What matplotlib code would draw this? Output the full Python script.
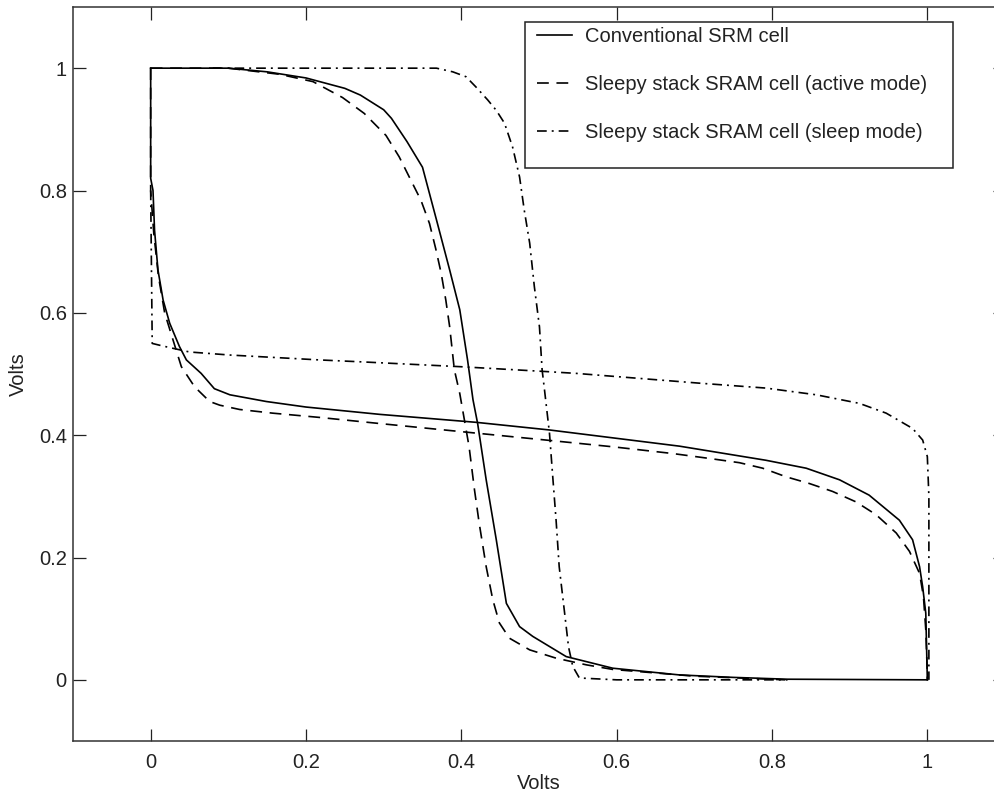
import matplotlib
matplotlib.use("Agg")
import matplotlib.pyplot as plt
from matplotlib.lines import Line2D
from matplotlib.patches import Rectangle

plt.rcParams['font.family'] = ['Liberation Sans', 'DejaVu Sans']
plt.rcParams['lines.scale_dashes'] = False

# ---- data ----
labels = ["Conventional SRM cell",
          "Sleepy stack SRAM cell (active mode)",
          "Sleepy stack SRAM cell (sleep mode)"]

conv_a_x = [0.0, 0.10, 0.15, 0.20, 0.25, 0.27, 0.30, 0.31, 0.33, 0.35, 0.368, 0.385, 0.398,
            0.408, 0.415, 0.421, 0.432, 0.445, 0.458, 0.475, 0.492, 0.535, 0.595, 0.681,
            0.75, 0.82, 1.0]
conv_a_y = [1.0, 1.0, 0.994, 0.984, 0.967, 0.956, 0.932, 0.918, 0.88, 0.838, 0.752, 0.670,
            0.605, 0.523, 0.458, 0.419, 0.327, 0.229, 0.125, 0.087, 0.071, 0.038, 0.019,
            0.008, 0.004, 0.001, 0.0]

conv_b_x = [0.0, 0.0, 0.003, 0.005, 0.0094, 0.016, 0.0245, 0.037, 0.046, 0.065, 0.082, 0.102,
            0.149, 0.200, 0.295, 0.419, 0.5135, 0.681, 0.792, 0.844, 0.887, 0.925, 0.964,
            0.981, 0.990, 0.994, 0.998, 1.0]
conv_b_y = [1.0, 0.82, 0.80, 0.735, 0.670, 0.621, 0.583, 0.545, 0.523, 0.501, 0.476, 0.466,
            0.455, 0.446, 0.434, 0.421, 0.4085, 0.382, 0.359, 0.346, 0.327, 0.302, 0.261,
            0.229, 0.185, 0.152, 0.109, 0.0]

act_a_x = [0.0, 0.10, 0.166, 0.209, 0.247, 0.275, 0.303, 0.320, 0.333, 0.348, 0.359, 0.367,
           0.374, 0.380, 0.385, 0.391, 0.398, 0.410, 0.417, 0.423, 0.432, 0.4405, 0.449,
           0.462, 0.488, 0.522, 0.561, 0.595, 0.70, 0.817]
act_a_y = [1.0, 1.0, 0.990, 0.978, 0.952, 0.926, 0.890, 0.855, 0.822, 0.784, 0.746, 0.705,
           0.665, 0.621, 0.577, 0.507, 0.468, 0.381, 0.310, 0.256, 0.185, 0.131, 0.093,
           0.068, 0.049, 0.0354, 0.0245, 0.017, 0.006, 0.0]

act_b_x = [0.0, 0.0, 0.004, 0.010, 0.018, 0.0287, 0.0395, 0.0566, 0.076, 0.089, 0.1145, 0.157,
           0.2175, 0.295, 0.398, 0.509, 0.595, 0.672, 0.719, 0.758, 0.788, 0.818, 0.848,
           0.878, 0.908, 0.934, 0.960, 0.977, 0.990, 0.995, 0.998, 1.0, 1.0]
act_b_y = [1.0, 0.80, 0.73, 0.66, 0.60, 0.556, 0.512, 0.479, 0.455, 0.449, 0.442, 0.436,
           0.429, 0.419, 0.406, 0.392, 0.381, 0.370, 0.362, 0.355, 0.346, 0.332, 0.321,
           0.308, 0.291, 0.270, 0.240, 0.210, 0.174, 0.136, 0.082, 0.01, 0.0]

slp_a_x = [0.08, 0.368, 0.389, 0.406, 0.419, 0.434, 0.445, 0.4556, 0.466, 0.475, 0.481, 0.488,
           0.494, 0.5006, 0.504, 0.507, 0.5135, 0.518, 0.522, 0.526, 0.533, 0.538, 0.5435,
           0.552, 0.60, 0.82]
slp_a_y = [1.0, 1.0, 0.994, 0.986, 0.969, 0.948, 0.931, 0.910, 0.871, 0.822, 0.768, 0.714,
           0.643, 0.577, 0.507, 0.475, 0.403, 0.327, 0.261, 0.185, 0.109, 0.054, 0.0218,
           0.003, 0.0, 0.0]

slp_b_x = [0.0, 0.002, 0.0116, 0.0287, 0.050, 0.102, 0.2175, 0.269, 0.398, 0.509, 0.548,
           0.7066, 0.792, 0.857, 0.9125, 0.947, 0.981, 0.994, 1.0, 1.002, 1.002]
slp_b_y = [0.80, 0.55, 0.547, 0.542, 0.536, 0.531, 0.523, 0.520, 0.512, 0.504, 0.501,
           0.485, 0.477, 0.466, 0.452, 0.436, 0.411, 0.392, 0.365, 0.30, 0.0]

x_ticks = [0, 0.2, 0.4, 0.6, 0.8, 1.0]
y_ticks = [0, 0.2, 0.4, 0.6, 0.8, 1.0]
x_tick_labels = ["0", "0.2", "0.4", "0.6", "0.8", "1"]
y_tick_labels = ["0", "0.2", "0.4", "0.6", "0.8", "1"]
x_label = "Volts"
y_label = "Volts"

# ---- styles ----
FS = 14.5
dark = '#222222'
lw = 1.2
solid_style = dict(color='black', lw=lw, linestyle='-')
dash_style = dict(color='black', lw=lw, linestyle=(0, (8.5, 5.5)))
dashdot_style = dict(color='black', lw=lw, linestyle=(0, (7.0, 3.6, 1.4, 3.6)))

W, H = 994, 794
fig = plt.figure(figsize=(W / 100, H / 100), dpi=100)
ax = fig.add_axes([73 / W, (H - 741) / H, (1005 - 73) / W, (741 - 7) / H])

ax.plot(conv_a_x, conv_a_y, **solid_style)
ax.plot(conv_b_x, conv_b_y, **solid_style)
ax.plot(act_a_x, act_a_y, **dash_style)
ax.plot(act_b_x, act_b_y, **dash_style)
ax.plot(slp_a_x, slp_a_y, **dashdot_style)
ax.plot(slp_b_x, slp_b_y, **dashdot_style)

ax.set_xlim(-0.1, 1.1)
ax.set_ylim(-0.1, 1.1)
ax.set_xticks(x_ticks)
ax.set_xticklabels(x_tick_labels)
ax.set_yticks(y_ticks)
ax.set_yticklabels(y_tick_labels)
ax.tick_params(direction='in', length=9, width=0.9, top=True, right=True,
               labelsize=FS, labelcolor=dark, color='#222222')
ax.tick_params(axis='x', pad=9)
ax.tick_params(axis='y', pad=4.5)
for s in ax.spines.values():
    s.set_linewidth(1.1)
    s.set_color('#333333')

ax.set_xlabel(x_label, fontsize=FS, color=dark, labelpad=1)
ax.set_ylabel(y_label, fontsize=FS, color=dark, labelpad=8)

# legend frame
ax.add_patch(Rectangle((0.4826, 0.8366), 0.5509, 0.2386, transform=ax.transData,
                       facecolor='white', edgecolor='#222222', lw=1.1, zorder=4,
                       clip_on=False))
handles = [Line2D([], [], **solid_style),
           Line2D([], [], **dash_style),
           Line2D([], [], **dashdot_style)]
leg = ax.legend(handles, labels, loc='upper left',
                bbox_to_anchor=(537 / W, (H - 27) / H), bbox_transform=fig.transFigure,
                frameon=False, fontsize=FS, handlelength=1.75, handletextpad=0.65,
                labelspacing=1.43, borderpad=0, borderaxespad=0)
for t in leg.get_texts():
    t.set_color(dark)
leg.set_zorder(5)

fig.savefig("out.png", dpi=100)
